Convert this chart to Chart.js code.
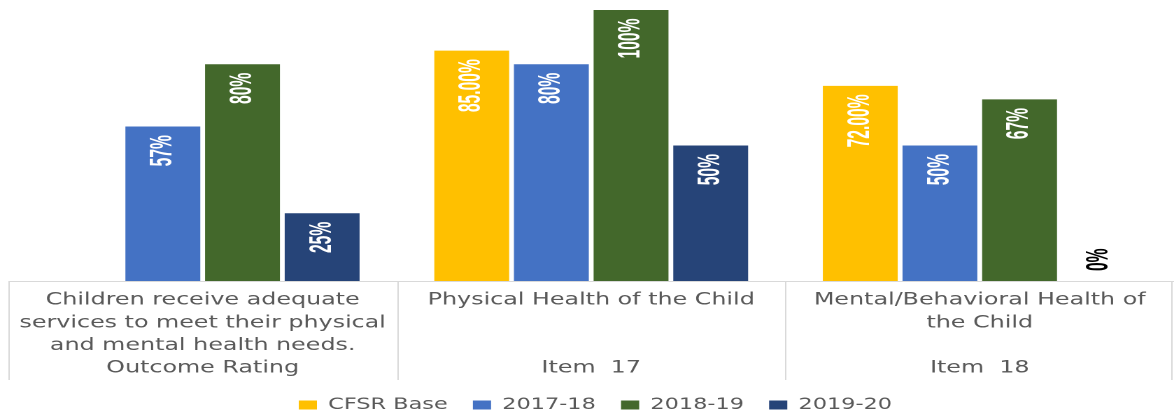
<!DOCTYPE html>
<html lang="en">
<head>
<meta charset="UTF-8">
<title>Physical and Mental Health of the Child</title>
<script src="https://cdn.jsdelivr.net/npm/chart.js@4.4.1/dist/chart.umd.min.js"></script>
<style>
  html, body { margin: 0; padding: 0; overflow: hidden; background: #fff; }
  /* the source picture is stretched sideways, so draw narrow and widen it */
  .wrap { width: 839px; height: 417px; transform: scaleX(1.3993); transform-origin: 0 0; }
</style>
</head>
<body>
<div class="wrap"><canvas id="chart"></canvas></div>
<script>
// inner label lines, then the outer group label on the last line
const categories = [
  ['Children receive adequate', 'services to meet their physical', 'and mental health needs.', 'Outcome Rating'],
  ['Physical Health of the Child', '', '', 'Item  17'],
  ['Mental/Behavioral Health of', 'the Child', '', 'Item  18']
];
const seriesNames = ['CFSR Base', '2017-18', '2018-19', '2019-20'];
const cfsrBase = [null, 85, 72];
const fy1718 = [57, 80, 50];
const fy1819 = [80, 100, 67];
const fy1920 = [25, 50, 0];
const decimals = [2, 0, 0, 0];
const colors = ['#FFC000', '#4472C4', '#43682B', '#264478'];

// boxes round the category labels
const boxLines = {
  id: 'boxLines',
  afterDraw(chart) {
    const x = chart.scales.x, ctx = chart.ctx;
    const n = categories.length, step = x.width / n;
    ctx.save();
    ctx.strokeStyle = '#d9d9d9';
    ctx.lineWidth = 1;
    ctx.beginPath();
    ctx.moveTo(x.left, x.top + 0.5);
    ctx.lineTo(chart.width, x.top + 0.5);
    for (let i = 0; i <= n; i++) {
      const px = Math.min(Math.round(x.left + i * step), chart.width - 2) + 0.5;
      ctx.moveTo(px, x.top);
      ctx.lineTo(px, x.top + 99);
    }
    ctx.stroke();
    ctx.restore();
  }
};

// vertical value labels, squeezed to look condensed
const barLabels = {
  id: 'barLabels',
  afterDatasetsDraw(chart) {
    const ctx = chart.ctx;
    ctx.save();
    ctx.font = 'bold 22px "Liberation Sans", Arial, sans-serif';
    ctx.textBaseline = 'middle';
    chart.data.datasets.forEach((ds, i) => {
      chart.getDatasetMeta(i).data.forEach((bar, j) => {
        const v = ds.data[j];
        if (v === null) return;
        const text = v.toFixed(decimals[i]) + '%';
        ctx.save();
        ctx.translate(bar.x, bar.y);
        ctx.rotate(-Math.PI / 2);
        ctx.scale(0.71, 1);
        if (v > 5) {
          ctx.fillStyle = '#ffffff';
          ctx.textAlign = 'right';
          ctx.fillText(text, -12, 0);
        } else {
          ctx.fillStyle = '#000000';
          ctx.textAlign = 'left';
          ctx.fillText(text, 14, 0);
        }
        ctx.restore();
      });
    });
    ctx.restore();
  }
};

const seriesData = [cfsrBase, fy1718, fy1819, fy1920];

new Chart(document.getElementById('chart'), {
  type: 'bar',
  data: {
    labels: categories,
    datasets: seriesNames.map((name, i) => ({
      label: name,
      data: seriesData[i],
      backgroundColor: colors[i],
      categoryPercentage: 0.82,
      barPercentage: 0.94
    }))
  },
  options: {
    responsive: true,
    maintainAspectRatio: false,
    animation: false,
    devicePixelRatio: 2,
    layout: { padding: { top: 10, left: 6, right: -6, bottom: -6 } },
    plugins: {
      legend: {
        position: 'bottom',
        labels: {
          boxWidth: 13,
          boxHeight: 9,
          padding: 18,
          color: '#595959',
          font: { family: 'DejaVu Sans', size: 16 }
        }
      },
      tooltip: { enabled: false }
    },
    scales: {
      x: {
        grid: { display: false, drawTicks: false },
        border: { display: false },
        ticks: {
          color: '#595959',
          font: { family: 'DejaVu Sans', size: 17, lineHeight: 1.33 },
          padding: 8,
          maxRotation: 0,
          minRotation: 0,
          autoSkip: false
        },
        afterFit(scale) { scale.height = 98; }
      },
      y: { display: false, min: 0, max: 100 }
    }
  },
  plugins: [boxLines, barLabels]
});
</script>
</body>
</html>
